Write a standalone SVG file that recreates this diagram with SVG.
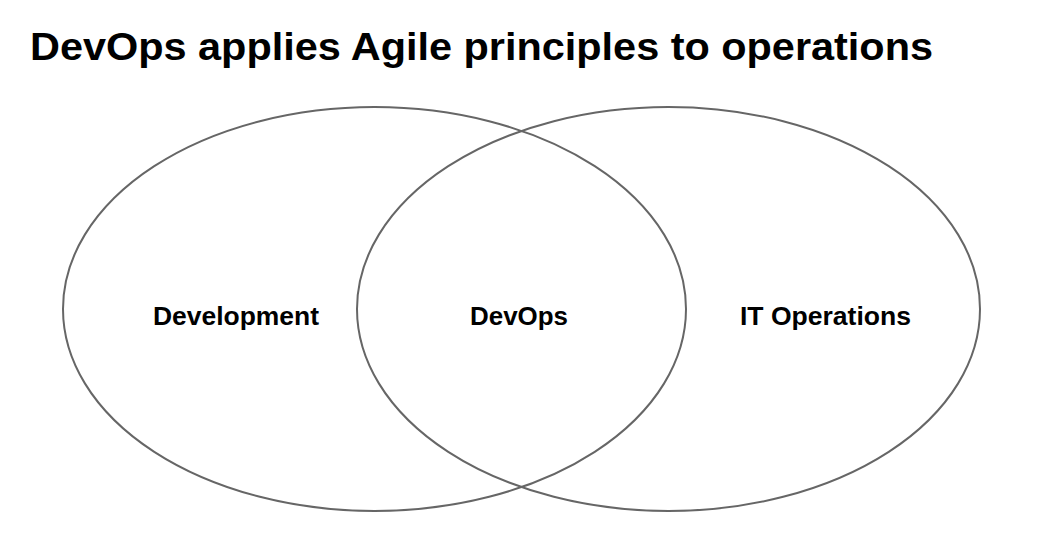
<svg xmlns="http://www.w3.org/2000/svg" width="1050" height="552" viewBox="0 0 1050 552">
<style>
.set{fill:none;stroke:#666666;stroke-width:2}
.lbl{font-family:"Liberation Sans",Arial,sans-serif;font-weight:bold;font-size:25px;fill:#000;text-anchor:middle}
.title{font-family:"Liberation Sans",Arial,sans-serif;font-weight:bold;font-size:39px;fill:#000}
</style>
<rect width="1050" height="552" fill="#ffffff"/>
<text class="title" x="30" y="60" textLength="903" lengthAdjust="spacingAndGlyphs">DevOps applies Agile principles to operations</text>
<g id="connectors"></g>
<g id="development">
<ellipse class="set" cx="374.5" cy="309" rx="311.5" ry="202"/>
<text class="lbl" x="236" y="325" textLength="166" lengthAdjust="spacingAndGlyphs">Development</text>
</g>
<g id="it-operations">
<ellipse class="set" cx="668.5" cy="309" rx="311.5" ry="202"/>
<text class="lbl" x="825.5" y="325" textLength="171" lengthAdjust="spacingAndGlyphs">IT Operations</text>
</g>
<g id="devops">
<text class="lbl" x="519" y="325" textLength="98" lengthAdjust="spacingAndGlyphs">DevOps</text>
</g>
</svg>
